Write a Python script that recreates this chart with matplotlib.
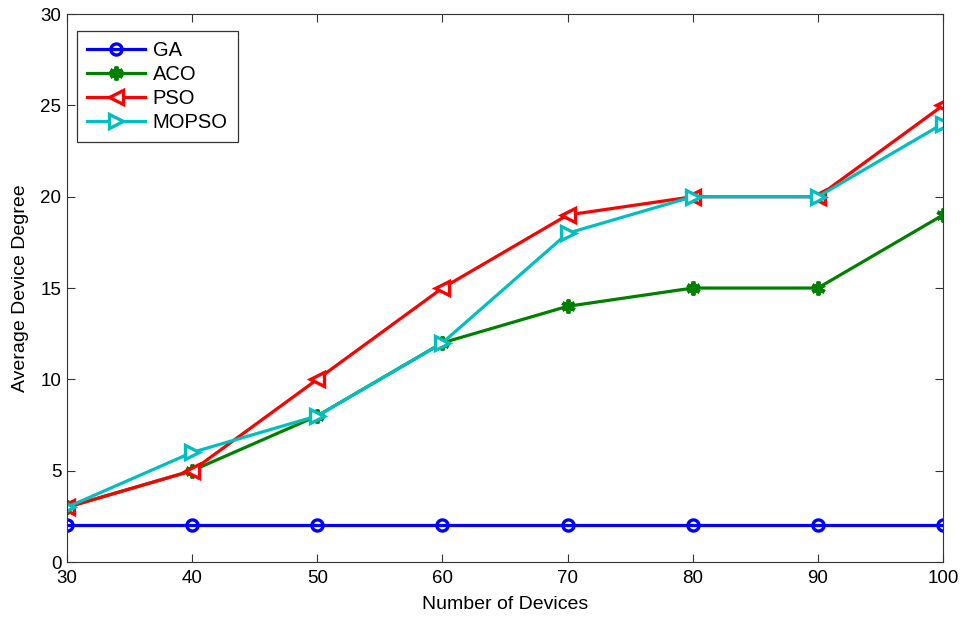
import numpy as np
import matplotlib
matplotlib.use('Agg')
import matplotlib.pyplot as plt

plt.rcParams['font.family'] = ['Liberation Sans', 'DejaVu Sans']

devices = [30, 40, 50, 60, 70, 80, 90, 100]
ga = [2, 2, 2, 2, 2, 2, 2, 2]
aco = [3, 5, 8, 12, 14, 15, 15, 19]
pso = [3, 5, 10, 15, 19, 20, 20, 25]
mopso = [3, 6, 8, 12, 18, 20, 20, 24]

fig = plt.figure(figsize=(9.64, 6.18), dpi=100)
ax = fig.add_axes([0.0695, 0.0906, 0.9087, 0.8866])

lw = 2.3
ax.plot(devices, ga, '-o', color='#0000ff', linewidth=lw, markersize=8,
        markerfacecolor='none', markeredgewidth=2.4, label='GA')
ax.plot(devices, aco, '-', marker=(6, 2, 0), color='#008000', linewidth=lw,
        markersize=10, markeredgewidth=2.8, label='ACO')
ax.plot(devices, pso, '-<', color='#ff0000', linewidth=lw, markersize=10,
        markerfacecolor='white', markeredgewidth=2.4, label='PSO')
ax.plot(devices, mopso, '->', color='#00bfbf', linewidth=lw, markersize=10,
        markerfacecolor='white', markeredgewidth=2.4, label='MOPSO')

ax.set_xlim(30, 100)
ax.set_ylim(0, 30)
ax.set_xticks(devices)
ax.set_yticks(np.arange(0, 31, 5))
ax.tick_params(direction='in', top=True, right=True, labelsize=13.5, length=6,
               color='#333333')
ax.tick_params(axis='x', pad=6)
ax.tick_params(axis='y', pad=4)
for s in ax.spines.values():
    s.set_color('#333333')
ax.set_xlabel('Number of Devices', fontsize=14)
ax.set_ylabel('Average Device Degree', fontsize=14)
ax.xaxis.set_label_coords(0.5, -0.062)
ax.yaxis.set_label_coords(-0.043, 0.5)

leg = ax.legend(loc='upper left', fontsize=14.5, fancybox=False, edgecolor='#333333',
                framealpha=1, handlelength=2.9, handletextpad=0.35, borderpad=0.5,
                labelspacing=0.25, borderaxespad=0, bbox_to_anchor=(0.0114, 0.969))
leg.get_frame().set_linewidth(0.9)

fig.savefig('out.png', dpi=100)
